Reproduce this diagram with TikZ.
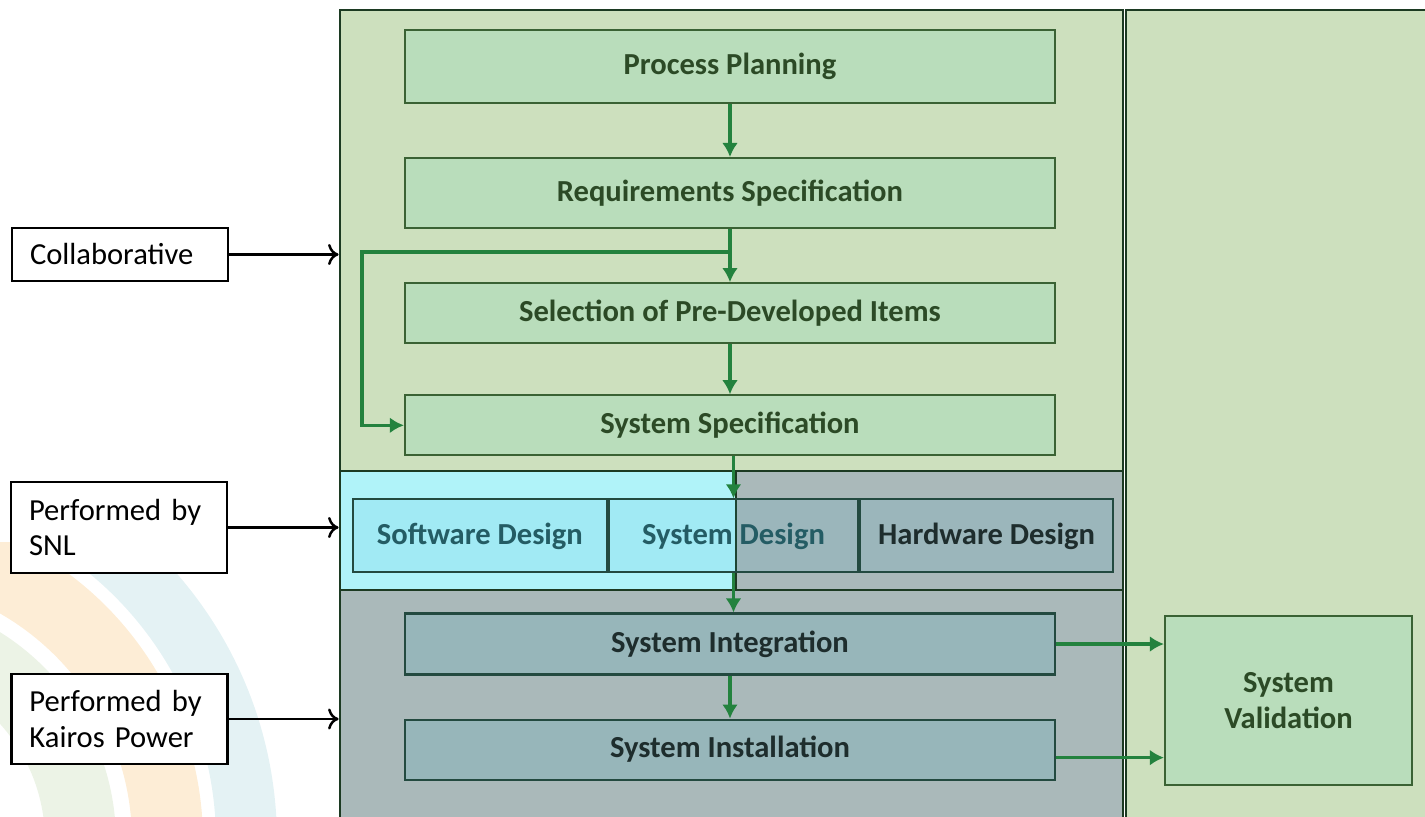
\documentclass[tikz,border=0pt]{standalone}
\usepackage{fontspec}
\setmainfont{Carlito}
\usetikzlibrary{arrows, arrows.meta, positioning, calc}

\definecolor{panelgreen}{HTML}{CDE0BE}
\definecolor{boxgreen}{HTML}{B9DDBB}
\definecolor{cyanzone}{HTML}{B0F3F9}
\definecolor{greyzone}{HTML}{AAB9BA}
\definecolor{boxgrey}{HTML}{97B6BA}
\definecolor{tintblue}{HTML}{1EA0C8}
\definecolor{zoneedge}{HTML}{1C3A22}
\definecolor{boxedge}{HTML}{3A6234}
\definecolor{darkedge}{HTML}{234A40}
\definecolor{textgreen}{HTML}{2C4A26}
\definecolor{textteal}{HTML}{245C64}
\definecolor{textdark}{HTML}{1E2D2D}
\definecolor{flowgreen}{HTML}{23823E}
\definecolor{arcteal}{HTML}{E4F2F4}
\definecolor{arcorange}{HTML}{FDEDD6}
\definecolor{arcgreen}{HTML}{ECF3E6}

\tikzstyle{zone} = [rectangle, draw=zoneedge, line width=0.8pt, inner sep=0pt]
\tikzstyle{stage} = [rectangle, minimum width=6.5cm, text centered, draw=boxedge, line width=0.6pt, fill=boxgreen, text=textgreen, font=\fontsize{8.7}{10.4}\selectfont\bfseries]
\tikzstyle{base} = [fill=boxgrey, draw=darkedge, text=textdark]
\tikzstyle{design} = [rectangle, minimum height=0.73cm, text centered, draw=darkedge, line width=0.6pt, fill=tintblue, fill opacity=0.1, text opacity=1, text=textteal, font=\fontsize{8.7}{10.4}\selectfont\bfseries]
\tikzstyle{tag} = [rectangle, draw=black, line width=0.6pt, fill=white, text width=1.8cm, inner xsep=0.18cm, align=left, font=\fontsize{8.7}{10.2}\selectfont]
\tikzstyle{flow} = [line width=1pt, draw=flowgreen, -{Latex[length=4pt, width=4.5pt]}]
\tikzstyle{pointer} = [line width=0.7pt, -{To[length=3pt, width=6pt]}]

\begin{document}
\begin{tikzpicture}[node distance=0.55cm]
    \useasboundingbox (0,0) rectangle (14.25,8.17);

    % Background arcs
    \begin{scope}
        \clip (0,0) rectangle (3.40,2.74);
        \draw [arcteal, line width=0.61cm] (-1.30,-0.24) circle (3.765);
        \draw [arcorange, line width=0.71cm] (-1.30,-0.24) circle (2.975);
        \draw [arcgreen, line width=0.71cm] (-1.30,-0.24) circle (2.105);
    \end{scope}

    % Zones
    \node (upper) [zone, fill=panelgreen, minimum width=7.83cm, minimum height=4.61cm] at (7.315,5.765) {};
    \node (side) [zone, fill=panelgreen, minimum width=3.10cm, minimum height=8.17cm] at (12.81,3.985) {};
    \node (lower) [zone, fill=greyzone, minimum width=7.83cm, minimum height=2.37cm] at (7.315,1.085) {};
    \node (midright) [zone, fill=greyzone, minimum width=3.87cm, minimum height=1.19cm] at (9.295,2.865) {};
    \node (midleft) [zone, fill=cyanzone, minimum width=3.96cm, minimum height=1.19cm] at (5.38,2.865) {};

    % Nodes
    \node (plan) [stage, minimum height=0.73cm] at (7.30,7.505) {Process Planning};
    \node (req) [stage, minimum height=0.70cm, below=0.53cm of plan] {Requirements Specification};
    \node (sel) [stage, minimum height=0.60cm, below=0.53cm of req] {Selection of Pre-Developed Items};
    \node (spec) [stage, minimum height=0.60cm, below=0.50cm of sel] {System Specification};
    \node (sysd) [design, minimum width=2.49cm, below=0.42cm of spec, xshift=0.035cm] {System Design};
    \node (soft) [design, minimum width=2.54cm, left=0cm of sysd] {Software Design};
    \node (hard) [design, minimum width=2.53cm, right=0cm of sysd, text=textdark] {Hardware Design};
    \node (integ) [stage, base, minimum height=0.61cm, below=0.39cm of sysd, xshift=-0.035cm] {System Integration};
    \node (install) [stage, base, minimum height=0.60cm, below=0.43cm of integ] {System Installation};
    \node (valid) [stage, minimum width=2.47cm, minimum height=1.69cm, align=center] at (12.885,1.165) {System\\Validation};

    \node (collab) [tag, minimum height=0.53cm] at (1.20,5.625) {Collaborative};
    \node (snl) [tag, minimum height=0.91cm] at (1.19,2.895) {Performed by\\SNL};
    \node (kairos) [tag, minimum height=0.90cm] at (1.195,0.98) {Performed by\\Kairos Power};

    % Arrows
    \coordinate (fork) at ($(req.south)+(0,-0.23)$);
    \draw [flow] (plan) -- (req);
    \draw [flow] (req) -- (sel);
    \draw [flow] (sel) -- (spec);
    \draw [flow] (fork) -- ++(-3.68,0) |- (spec.west);
    \draw [flow] (sysd.north |- spec.south) -- (sysd);
    \draw [flow] (sysd) -- (sysd.south |- integ.north);
    \draw [flow] (integ) -- (install);
    \draw [flow] (integ.east) -- (integ.east -| valid.west);
    \draw [flow] ([yshift=-0.08cm]install.east) -- ([yshift=-0.08cm]install.east -| valid.west);
    \draw [pointer] (collab) -- (collab -| upper.west);
    \draw [pointer] (snl) -- (snl -| midleft.west);
    \draw [pointer] (kairos) -- (kairos -| lower.west);

\end{tikzpicture}
\end{document}
